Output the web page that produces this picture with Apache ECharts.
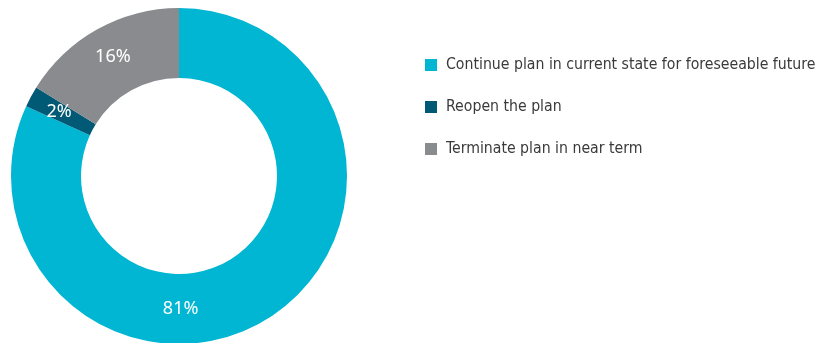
<!DOCTYPE html>
<html>
<head>
<meta charset="utf-8">
<script src="https://cdn.jsdelivr.net/npm/echarts@6/dist/echarts.min.js"></script>
<style>
  html, body { margin: 0; padding: 0; background: #fff; }
  #chart { width: 821px; height: 343px; }
</style>
</head>
<body>
<div id="chart"></div>
<script>
// Plan outlook shares
const categories = [
  'Continue plan in current state for foreseeable future',
  'Reopen the plan',
  'Terminate plan in near term'
];
const shares = [81, 2, 16];
const colors = ['#00B6D3', '#005A75', '#898B8F'];

const CENTER = [179, 176];
const RADII = [98, 168];
const START = 90;

// The large slice carries its label straight below the hole instead of at its mid-angle.
const total = shares.reduce((a, b) => a + b, 0);
const midDeg = START - (shares[0] / total) * 360 / 2;
const ringMid = (RADII[0] + RADII[1]) / 2 - 3;
const labelR = (RADII[0] + RADII[1]) / 2;
const rad = d => d * Math.PI / 180;
const bigOffset = [
  ringMid * Math.cos(rad(-90)) - labelR * Math.cos(rad(midDeg)),
  -ringMid * Math.sin(rad(-90)) + labelR * Math.sin(rad(midDeg))
];

const chart = echarts.init(document.getElementById('chart'));
chart.setOption({
  animation: false,
  color: colors,
  legend: {
    orient: 'vertical',
    left: 425,
    top: 55,
    padding: 0,
    itemWidth: 12,
    itemHeight: 12,
    itemGap: 22,
    icon: 'rect',
    selectedMode: false,
    textStyle: {
      fontFamily: 'DejaVu Sans Condensed, sans-serif',
      fontSize: 15.7,
      color: '#3a3a3a',
      lineHeight: 20,
      padding: [0, 0, 0, 4]
    },
    data: categories
  },
  series: [{
    type: 'pie',
    center: CENTER,
    radius: RADII,
    startAngle: START,
    clockwise: true,
    avoidLabelOverlap: false,
    label: {
      show: true,
      position: 'inside',
      formatter: '{c}%',
      color: '#ffffff',
      fontFamily: 'Noto Sans, sans-serif',
      fontSize: 18
    },
    labelLine: { show: false },
    itemStyle: { borderWidth: 0 },
    emphasis: { disabled: true },
    data: categories.map((name, i) => ({
      name,
      value: shares[i],
      label: i === 0 ? { offset: bigOffset } : undefined
    }))
  }]
});
</script>
</body>
</html>
